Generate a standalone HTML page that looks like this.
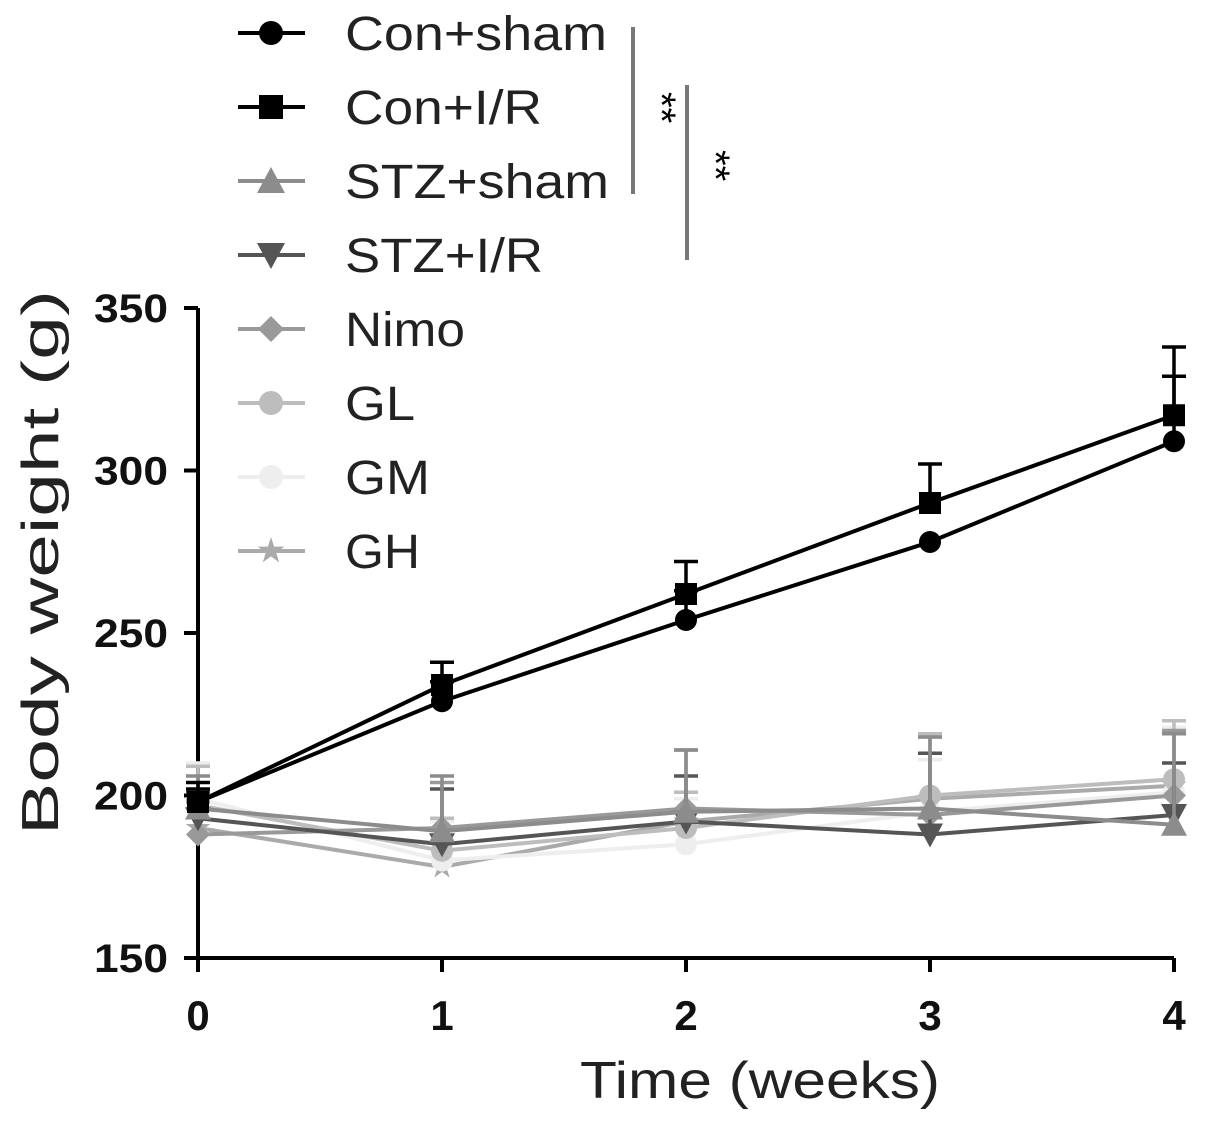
<!DOCTYPE html>
<html><head><meta charset="utf-8"><style>
body{margin:0;background:#fff;}
svg{display:block;font-family:"Liberation Sans",Arial,sans-serif;}
</style></head><body>
<svg id="chart" width="1205" height="1127" viewBox="0 0 1205 1127">
<g id="axes"></g>
<g id="series"></g>
<g id="legend"></g>
</svg>
<script>
const weeks=[0,1,2,3,4];
const yTicks=[150,200,250,300,350];
const seriesNames=["Con+sham","Con+I/R","STZ+sham","STZ+I/R","Nimo","GL","GM","GH"];
const conSham=[198,229,254,278,309];
const conSham_err=[4,6,9,0,20];
const conIR=[198,234,262,290,317];
const conIR_err=[6,7,10,12,21];
const stzSham=[196,189,195,196,191];
const stzSham_err=[10,17,19,22,28];
const stzIR=[193,185,192,188,194];
const stzIR_err=[8,17,14,25,16];
const nimo=[188,190,196,194,200];
const nimo_err=[10,14,18,19,20];
const gl=[197,183,190,200,205];
const gl_err=[12,10,11,19,18];
const gm=[199,180,185,195,201];
const gm_err=[11,12,14,16,20];
const gh=[190,178,192,199,203];
const gh_err=[9,15,9,19,18];
const vals=[conSham,conIR,stzSham,stzIR,nimo,gl,gm,gh];
const errs=[conSham_err,conIR_err,stzSham_err,stzIR_err,nimo_err,gl_err,gm_err,gh_err];
const colors=["#000","#000","#8c8c8c","#555","#999","#bdbdbd","#eeeeee","#aaaaaa"];
const shapes=["circle","square","tri","itri","diamond","circle","circle","star"];
const NS="http://www.w3.org/2000/svg";
const X=w=>198+w*244;
const Y=v=>958-(v-150)*3.25;
function mk(tag,attrs,parent){const e=document.createElementNS(NS,tag);for(const k in attrs)e.setAttribute(k,attrs[k]);parent.appendChild(e);return e;}
const axes=document.getElementById('axes');
let yl=mk('line',{x1:X(0),y1:Y(150),x2:X(0),y2:Y(350),stroke:'#000','stroke-width':4},axes);


let xl=mk('line',{x1:X(0),y1:Y(150),x2:X(4),y2:Y(150),stroke:'#000','stroke-width':4},axes);


yTicks.forEach(t=>{
  mk('line',{x1:X(0)-14,x2:X(0),y1:Y(t),y2:Y(t),stroke:'#000','stroke-width':4},axes);
  const tx=mk('text',{x:X(0)-30,y:Y(t)+14,'text-anchor':'end','font-size':40,'font-weight':'bold',textLength:74,lengthAdjust:'spacingAndGlyphs',fill:'#111'},axes);
  tx.textContent=t;
  
  
});
weeks.forEach(w=>{
  mk('line',{x1:X(w),x2:X(w),y1:Y(150),y2:Y(150)+14,stroke:'#000','stroke-width':4},axes);
  const tx=mk('text',{x:X(w),y:Y(150)+72,'text-anchor':'middle','font-size':42,'font-weight':'bold',fill:'#111'},axes);
  tx.textContent=w;
  
  
});
const xt=mk('text',{x:580,y:1098,'font-size':52,textLength:360,lengthAdjust:'spacingAndGlyphs',fill:'#222'},axes);
xt.textContent='Time (weeks)';


const yt=mk('text',{x:0,y:0,'font-size':52,textLength:545,lengthAdjust:'spacingAndGlyphs',fill:'#222',transform:'translate(58 835) rotate(-90)'},axes);
yt.textContent='Body weight (g)';



function marker(shape,x,y,c,p,r){
  r=r||11;
  if(shape==='circle')return mk('circle',{cx:x,cy:y,r:r,fill:c},p);
  if(shape==='square')return mk('rect',{x:x-r,y:y-r,width:2*r,height:2*r,fill:c},p);
  if(shape==='tri')return mk('polygon',{points:`${x},${y-r-2} ${x-r-2},${y+r} ${x+r+2},${y+r}`,fill:c},p);
  if(shape==='itri')return mk('polygon',{points:`${x},${y+r+2} ${x-r-2},${y-r} ${x+r+2},${y-r}`,fill:c},p);
  if(shape==='diamond')return mk('polygon',{points:`${x},${y-r-1} ${x+r+1},${y} ${x},${y+r+1} ${x-r-1},${y}`,fill:c},p);
  let pts=[];for(let i=0;i<10;i++){const a=-Math.PI/2+i*Math.PI/5;const rr=i%2?r*0.45:r+2;pts.push((x+rr*Math.cos(a))+','+(y+rr*Math.sin(a)));}
  return mk('polygon',{points:pts.join(' '),fill:c},p);
}
const sg=document.getElementById('series');
for(let s=vals.length-1;s>=0;s--){
  const g=mk('g',{},sg);
  
  
  const v=vals[s],e=errs[s],c=colors[s];
  v.forEach((d,i)=>{ if(e[i]>0){
    mk('line',{x1:X(weeks[i]),x2:X(weeks[i]),y1:Y(d),y2:Y(d+e[i]),stroke:c,'stroke-width':3.5},g);
    mk('line',{x1:X(weeks[i])-12,x2:X(weeks[i])+12,y1:Y(d+e[i]),y2:Y(d+e[i]),stroke:c,'stroke-width':3.5},g);}
  });
  const pl=mk('polyline',{points:v.map((d,i)=>X(weeks[i])+','+Y(d)).join(' '),fill:'none',stroke:c,'stroke-width':4},g);
  
  
  v.forEach((d,i)=>{const m=marker(shapes[s],X(weeks[i]),Y(d),c,g);
    
    });
}
const lg=document.getElementById('legend');
const legendW=[262,197,264,198,120,70,85,75];
seriesNames.forEach((n,i)=>{
  const y=33+i*74;
  const g=mk('g',{},lg);
  
  
  mk('line',{x1:238,x2:305,y1:y,y2:y,stroke:colors[i],'stroke-width':4},g);
  marker(shapes[i],271,y,colors[i],g,12);
  const t=mk('text',{x:345,y:y+17,'font-size':48,fill:'#222',textLength:legendW[i],lengthAdjust:'spacingAndGlyphs'},g);
  t.textContent=n;
});
mk('line',{x1:633,x2:633,y1:27,y2:194,stroke:'#777','stroke-width':4},lg);
mk('line',{x1:687,x2:687,y1:85,y2:260,stroke:'#777','stroke-width':4},lg);
const s1=mk('text',{x:0,y:0,'font-size':40,transform:'translate(648 92) rotate(90)'},lg);s1.textContent='**';


const s2=mk('text',{x:0,y:0,'font-size':40,transform:'translate(702 150) rotate(90)'},lg);s2.textContent='**';


</script>
</body></html>
